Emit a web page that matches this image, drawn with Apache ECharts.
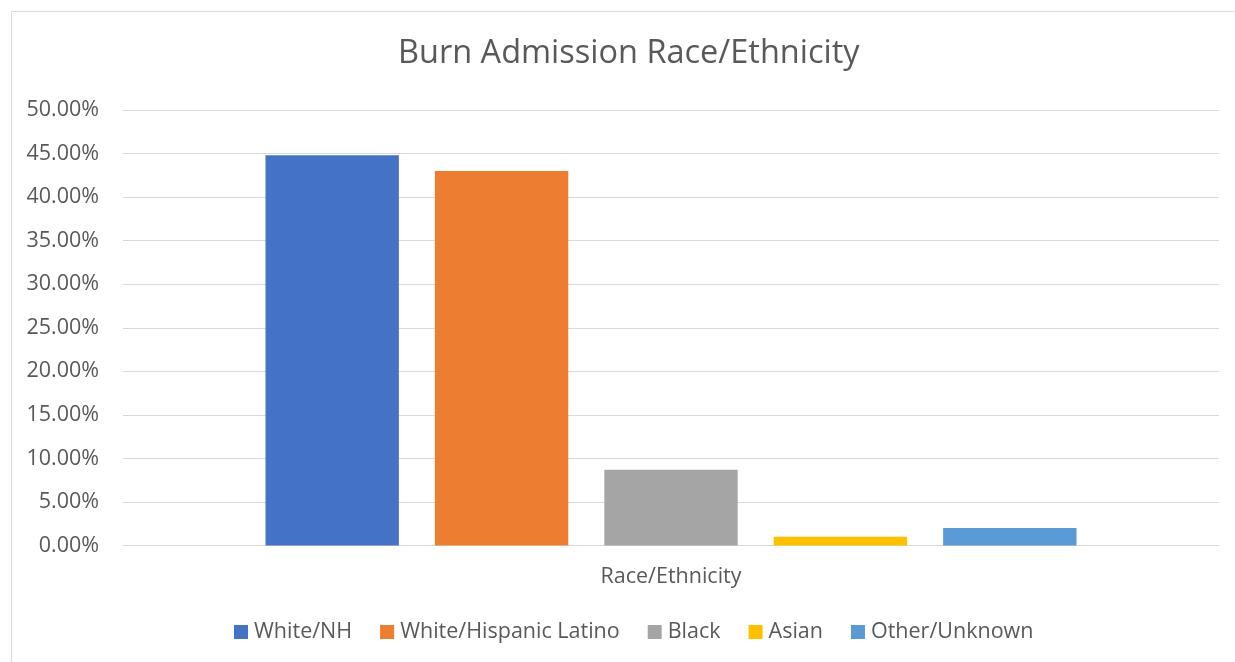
<!DOCTYPE html>
<html>
<head>
<meta charset="utf-8">
<script src="https://cdn.jsdelivr.net/npm/echarts@6/dist/echarts.min.js"></script>
<style>
  html, body { margin: 0; padding: 0; background: #fff; }
  #chart { width: 1235px; height: 662px; }
</style>
</head>
<body>
<div id="chart"></div>
<script>
// Share of burn admissions by race/ethnicity
const categories = ['Race/Ethnicity'];
const seriesNames = ['White/NH', 'White/Hispanic Latino', 'Black', 'Asian', 'Other/Unknown'];
const seriesValues = [0.448, 0.430, 0.087, 0.010, 0.020];
const seriesColors = ['#4472C4', '#ED7D31', '#A5A5A5', '#FFC000', '#5B9BD5'];
const yTicks = { min: 0, max: 0.5, interval: 0.05 };

const textColor = '#595959';
const fontFamily = '"Open Sans", "Noto Sans", sans-serif';
const labelSize = 21.5;

const chart = echarts.init(document.getElementById('chart'), null, { renderer: 'canvas' });

chart.setOption({
  backgroundColor: '#fff',
  animation: false,
  textStyle: { fontFamily: fontFamily },
  title: {
    text: 'Burn Admission Race/Ethnicity',
    left: 393,
    top: 32,
    textStyle: { fontSize: 32.5, fontWeight: 'normal', color: textColor, fontFamily: fontFamily }
  },
  graphic: [{
    type: 'rect',
    shape: { x: 11.5, y: 11.5, width: 1400, height: 800 },
    style: { fill: 'none', stroke: '#d9d9d9', lineWidth: 1 },
    silent: true
  }],
  legend: {
    data: seriesNames,
    top: 616,
    left: 229,
    icon: 'rect',
    itemWidth: 14,
    itemHeight: 14,
    itemGap: 28,
    textStyle: { fontSize: labelSize, color: textColor, fontFamily: fontFamily, padding: [0, 0, 0, 1] }
  },
  grid: { left: 123, right: 16, top: 110, bottom: 116.5, containLabel: false },
  xAxis: {
    type: 'category',
    data: categories,
    axisLine: { lineStyle: { color: '#d9d9d9', width: 1 } },
    axisTick: { show: false },
    axisLabel: { fontSize: labelSize, color: textColor, margin: 20, fontFamily: fontFamily }
  },
  yAxis: {
    type: 'value',
    min: yTicks.min,
    max: yTicks.max,
    interval: yTicks.interval,
    axisLine: { show: false },
    axisTick: { show: false },
    splitLine: { lineStyle: { color: '#d9d9d9', width: 1 } },
    axisLabel: {
      fontSize: labelSize,
      color: textColor,
      margin: 24,
      fontFamily: fontFamily,
      formatter: v => (v * 100).toFixed(2) + '%'
    }
  },
  series: seriesNames.map((name, i) => ({
    name: name,
    type: 'bar',
    data: [seriesValues[i]],
    itemStyle: { color: seriesColors[i] },
    barGap: '27%',
    barCategoryGap: '26%'
  }))
});
</script>
</body>
</html>
